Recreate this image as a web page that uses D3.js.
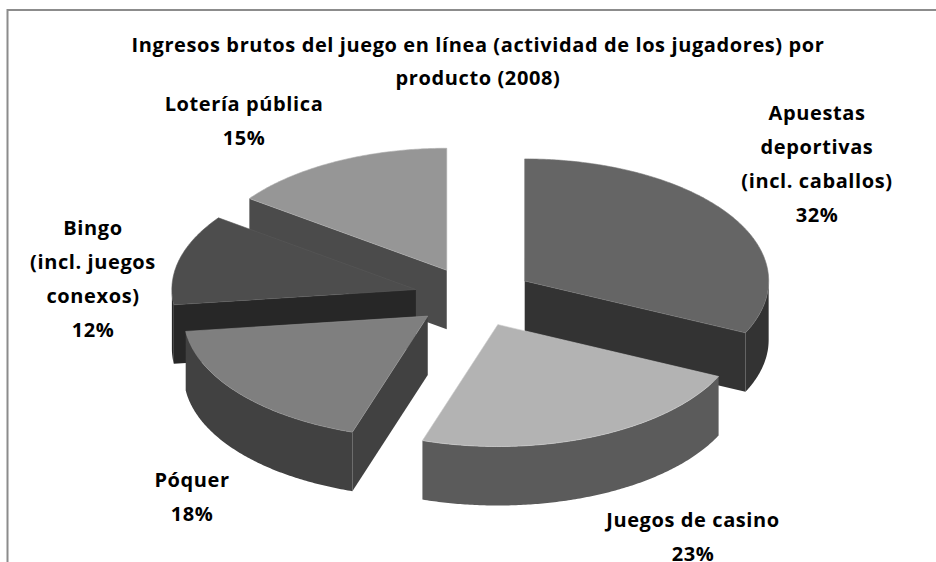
<!DOCTYPE html>
<html>
<head>
<meta charset="utf-8">
<script src="https://cdn.jsdelivr.net/npm/d3@7"></script>
<style>
  body { margin: 0; background: #fff; }
  text { font-family: "Open Sans", "Liberation Sans", sans-serif; font-weight: bold; fill: #000; letter-spacing: 0.6px; }
</style>
</head>
<body>
<div id="chart"></div>
<script>
const categories = ["Apuestas deportivas (incl. caballos)", "Juegos de casino", "Póquer", "Bingo (incl. juegos conexos)", "Lotería pública"];
const shares = [32, 23, 18, 12, 15];
const labelLines = [
  ["Apuestas", "deportivas", "(incl. caballos)"],
  ["Juegos de casino"],
  ["Póquer"],
  ["Bingo", "(incl. juegos", "conexos)"],
  ["Lotería pública"]
];
const titleLines = ["Ingresos brutos del juego en línea (actividad de los jugadores) por", "producto (2008)"];

const width = 936, height = 562;
const cx = 474, cy = 297, rx = 244, ry = 122, depth = 59, explode = 60;
const topColors = ["#656565", "#b3b3b3", "#7f7f7f", "#4d4d4d", "#969696"];
const wallColors = ["#333333", "#5b5b5b", "#414141", "#272727", "#4b4b4b"];
// label block centres (text layout only)
const labelCenters = [[817, 164], [693, 537], [192, 497], [93, 279], [244, 121]];
const lineGap = 34;
const fontSize = 20;

const svg = d3.select("#chart").append("svg")
  .attr("width", width).attr("height", height);

svg.append("rect")
  .attr("x", 7.5).attr("y", 10)
  .attr("width", width + 20).attr("height", height + 20)
  .attr("fill", "#fff").attr("stroke", "#8c8c8c").attr("stroke-width", 2);

const data = categories.map((c, i) => ({ name: c, share: shares[i], lines: labelLines[i], i }));
const arcs = d3.pie().sort(null).value(d => d.share)(data);

const line = d3.line();

arcs.forEach(a => {
  const mid = (a.startAngle + a.endAngle) / 2;
  a.ox = cx + explode * Math.sin(mid);
  a.oy = cy - explode * (ry / rx) * Math.cos(mid);
});

function pt(a, t, dz = 0) {
  return [a.ox + rx * Math.sin(t), a.oy - ry * Math.cos(t) + dz];
}
function arcPts(a, t0, t1, dz = 0) {
  const n = Math.max(2, Math.ceil((t1 - t0) / 0.01));
  return d3.range(n + 1).map(k => pt(a, t0 + (t1 - t0) * k / n, dz));
}

const order = arcs.slice().sort((p, q) => p.oy - q.oy);

order.forEach(a => {
  const g = svg.append("g").attr("class", "slice");
  const col = wallColors[a.data.i];
  const c0 = [a.ox, a.oy], c1 = [a.ox, a.oy + depth];

  // radial cut faces facing the viewer
  if (Math.sin(a.startAngle) < -1e-6) {
    const p = pt(a, a.startAngle);
    g.append("path").attr("d", line([c0, p, [p[0], p[1] + depth], c1]) + "Z").attr("fill", col);
  }
  if (Math.sin(a.endAngle) > 1e-6) {
    const p = pt(a, a.endAngle);
    g.append("path").attr("d", line([c0, p, [p[0], p[1] + depth], c1]) + "Z").attr("fill", col);
  }
  // front outer wall
  const w0 = Math.max(a.startAngle, Math.PI / 2), w1 = Math.min(a.endAngle, 3 * Math.PI / 2);
  if (w1 > w0) {
    const pts = arcPts(a, w0, w1).concat(arcPts(a, w0, w1, depth).reverse());
    g.append("path").attr("d", line(pts) + "Z").attr("fill", col);
  }
  // top face
  g.append("path")
    .attr("d", line([c0].concat(arcPts(a, a.startAngle, a.endAngle))) + "Z")
    .attr("fill", topColors[a.data.i])
    .attr("stroke", d3.color(topColors[a.data.i]).brighter(0.4))
    .attr("stroke-width", 0.6);
});

// title
svg.append("g").selectAll("text").data(titleLines).join("text")
  .attr("x", 478).attr("y", (d, i) => 52 + i * 33)
  .attr("text-anchor", "middle").attr("font-size", fontSize)
  .text(d => d);

// labels
arcs.forEach(a => {
  const lines = a.data.lines.concat([a.data.share + "%"]);
  const [lx, ly] = labelCenters[a.data.i];
  const y0 = ly - (lines.length - 1) * lineGap / 2;
  svg.append("g").selectAll("text").data(lines).join("text")
    .attr("x", lx).attr("y", (d, k) => y0 + k * lineGap + 7)
    .attr("text-anchor", "middle").attr("font-size", fontSize)
    .text(d => d);
});
</script>
</body>
</html>
